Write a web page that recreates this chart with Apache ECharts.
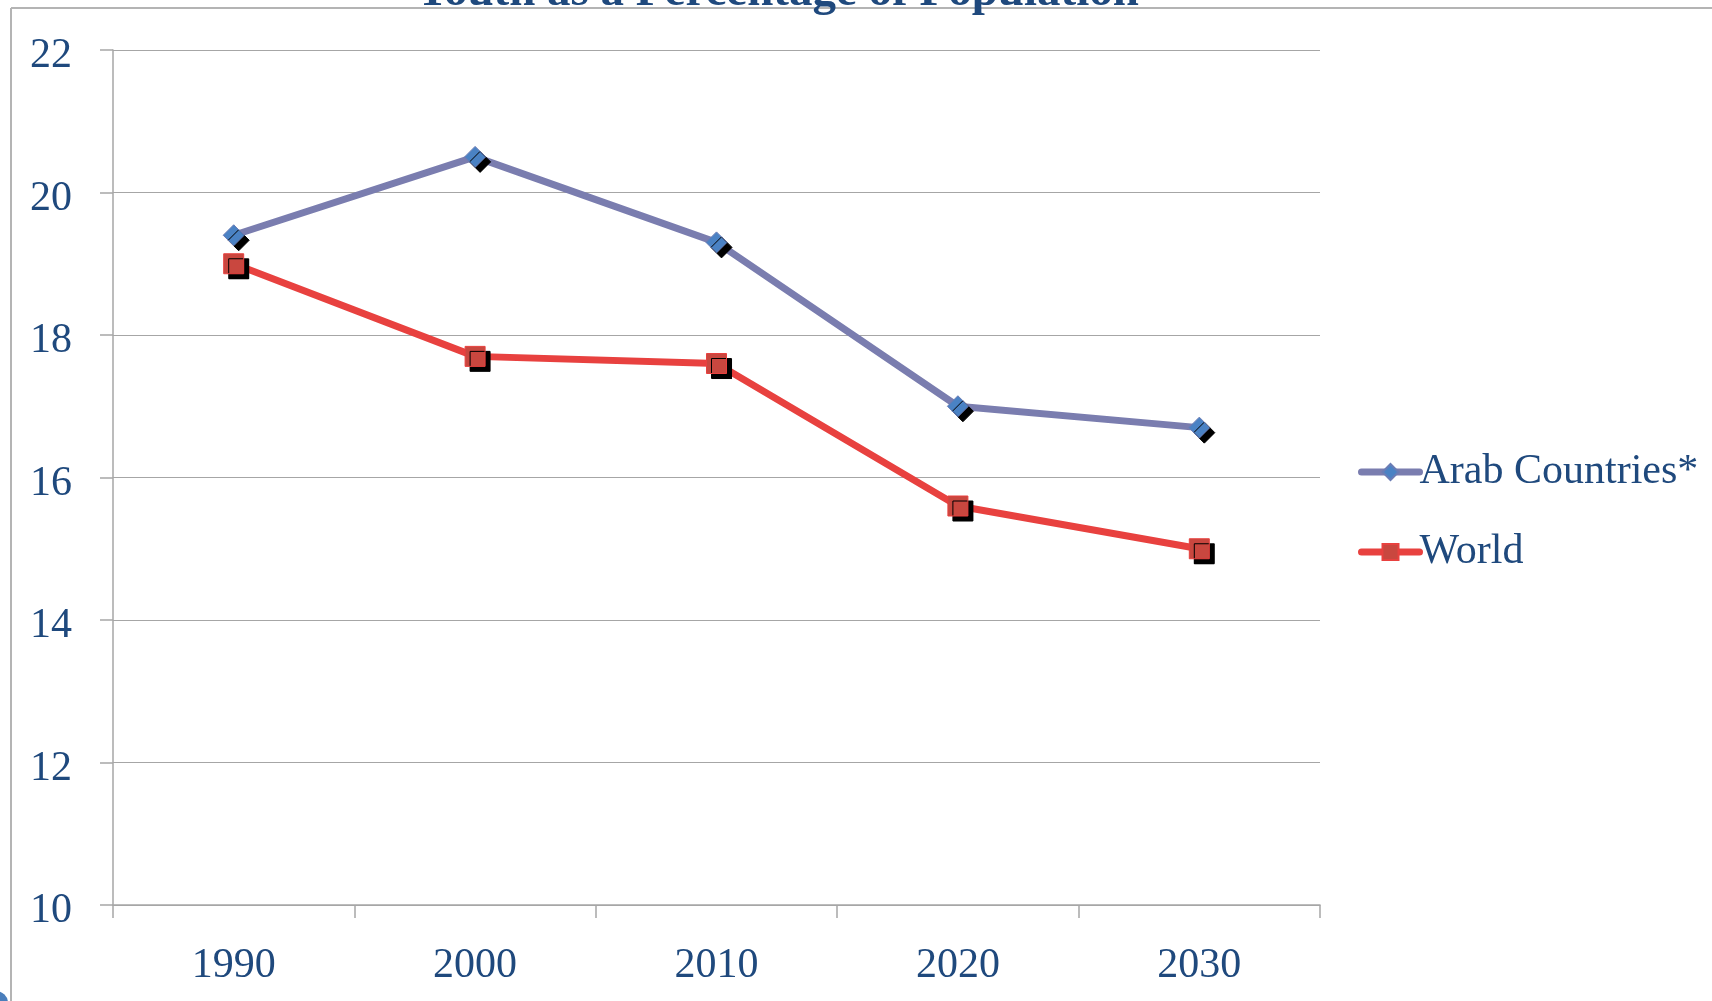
<!DOCTYPE html>
<html><head><meta charset="utf-8">
<script src="https://cdn.jsdelivr.net/npm/echarts@6/dist/echarts.min.js"></script>
<style>html,body{margin:0;padding:0;background:#fff}#c{width:1712px;height:1001px}</style>
</head><body><div id="c"></div>
<script>
const years = ['1990','2000','2010','2020','2030'];
const arab = [19.4, 20.5, 19.3, 17.0, 16.7];
const world = [19.0, 17.7, 17.6, 15.6, 15.0];
const seriesNames = ['Arab Countries*', 'World'];
const titleText = 'Youth as a Percentage of Population';

const font = '"Liberation Serif", "DejaVu Serif", serif';
const txt = '#1F497D';
const chart = echarts.init(document.getElementById('c'));
chart.setOption({
  backgroundColor: '#fff',
  animation: false,
  title: {
    text: titleText, left: 772, top: -36, textAlign: 'center',
    textStyle: {fontFamily: font, fontWeight: 'bold', fontSize: 47, color: txt}
  },
  graphic: [
    {type: 'line', shape: {x1: 11, y1: 8, x2: 11, y2: 1001}, style: {stroke: '#b4b4b4', lineWidth: 2}},
    {type: 'line', shape: {x1: 11, y1: 8, x2: 1712, y2: 8}, style: {stroke: '#b4b4b4', lineWidth: 2}},
    {type: 'circle', shape: {cx: -4, cy: 1003, r: 12}, style: {fill: '#4a7ebb'}}
  ],
  grid: {left: 113, right: 392, top: 50, bottom: 96, containLabel: false},
  legend: {
    orient: 'vertical', left: 1353, top: 446, itemGap: 38, itemWidth: 58, itemHeight: 20,
    data: seriesNames,
    lineStyle: {width: 7, cap: 'round'},
    textStyle: {fontFamily: font, fontSize: 42, color: txt, padding: [0, 0, 0, -5]}
  },
  xAxis: {
    type: 'category', data: years, boundaryGap: true,
    axisLine: {lineStyle: {color: '#a6a6a6', width: 1.5}},
    axisTick: {show: true, length: 13, lineStyle: {color: '#a6a6a6', width: 1.5}},
    axisLabel: {fontFamily: font, fontSize: 42, color: txt, margin: 40}
  },
  yAxis: {
    type: 'value', min: 10, max: 22, interval: 2,
    axisLine: {show: true, lineStyle: {color: '#a6a6a6', width: 1.5}},
    axisTick: {show: true, length: 13, lineStyle: {color: '#a6a6a6', width: 1.5}},
    splitLine: {lineStyle: {color: '#a6a6a6', width: 1.2}},
    axisLabel: {
      margin: 41, formatter: '{v|{value}}',
      rich: {v: {fontFamily: font, fontSize: 42, color: txt, padding: [12, 0, 0, 0]}}
    }
  },
  series: [
    {
      name: seriesNames[0], type: 'line', data: arab,
      symbol: 'diamond', symbolSize: 21, z: 3,
      lineStyle: {color: '#7A7DAF', width: 7},
      itemStyle: {color: '#4A82C4', borderColor: '#6a7cb5', borderWidth: 1,
        shadowColor: '#000', shadowBlur: 0.5, shadowOffsetX: 5, shadowOffsetY: 5}
    },
    {
      name: seriesNames[1], type: 'line', data: world,
      symbol: 'rect', symbolSize: 20, z: 4,
      lineStyle: {color: '#E8413F', width: 7},
      itemStyle: {color: '#C9473F', borderColor: '#E8413F', borderWidth: 1,
        shadowColor: '#000', shadowBlur: 0.5, shadowOffsetX: 5, shadowOffsetY: 5}
    }
  ]
});
</script></body></html>
